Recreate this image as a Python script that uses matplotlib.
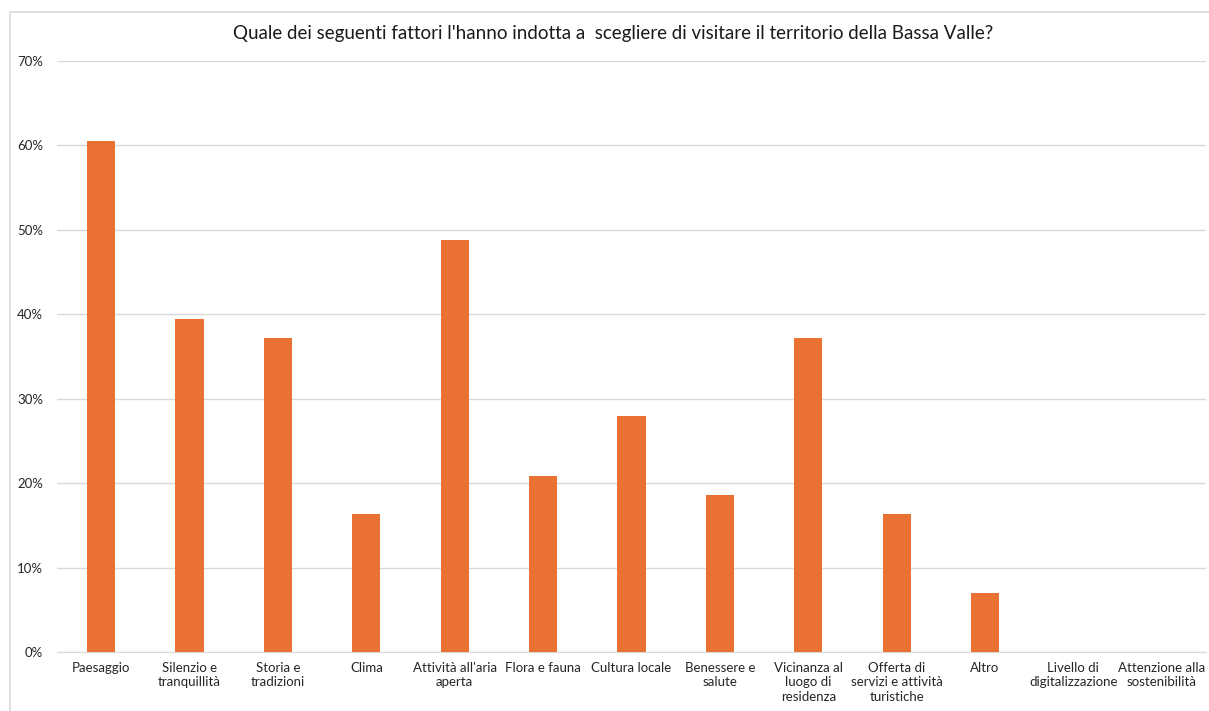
import numpy as np
import matplotlib
matplotlib.use("Agg")
import matplotlib.pyplot as plt
from matplotlib.patches import Rectangle
from matplotlib.ticker import PercentFormatter

categories = ["Paesaggio", "Silenzio e\ntranquillità", "Storia e\ntradizioni", "Clima",
              "Attività all'aria\naperta", "Flora e fauna", "Cultura locale",
              "Benessere e\nsalute", "Vicinanza al\nluogo di\nresidenza",
              "Offerta di\nservizi e attività\nturistiche", "Altro",
              "Livello di\ndigitalizzazione", "Attenzione alla\nsostenibilità"]
values = [60.5, 39.5, 37.2, 16.3, 48.8, 20.9, 27.9, 18.6, 37.2, 16.3, 7.0, 0.0, 0.0]
yticks = [0, 10, 20, 30, 40, 50, 60, 70]
title = "Quale dei seguenti fattori l'hanno indotta a  scegliere di visitare il territorio della Bassa Valle?"

plt.rcParams['font.family'] = ['Lato', 'DejaVu Sans']

fig = plt.figure(figsize=(12.09, 7.11), dpi=100)
# chart area border
fig.patches.append(Rectangle((10 / 1209, -0.01), 1.0, 1 - 12 / 711 + 0.01,
                             transform=fig.transFigure, fill=False,
                             edgecolor='#D9D9D9', linewidth=1.2))

ax = fig.add_axes([57 / 1209, 59 / 711, 1149 / 1209, 591 / 711])
x = np.arange(len(categories))
ax.bar(x, values, width=0.32, color='#E97132', zorder=3)

ax.set_xlim(-0.5, len(categories) - 0.5)
ax.set_ylim(0, 70)
ax.set_yticks(yticks)
ax.yaxis.set_major_formatter(PercentFormatter(decimals=0))
ax.grid(axis='y', color='#D9D9D9', linewidth=1, zorder=0)
ax.set_xticks(x)
ax.set_xticklabels(categories, fontsize=9.5, color='#262626', va='top', linespacing=1.25)
ax.tick_params(axis='y', labelsize=9.5, labelcolor='#262626', length=0, pad=10)
ax.tick_params(axis='x', length=0, pad=7)
for s in ['top', 'right', 'left']:
    ax.spines[s].set_visible(False)
ax.spines['bottom'].set_color('#D9D9D9')

fig.text(613 / 1209, 1 - 33 / 711, title, ha='center', va='center', fontsize=13.5, color='#1a1a1a')

fig.savefig("out.png", dpi=100)
